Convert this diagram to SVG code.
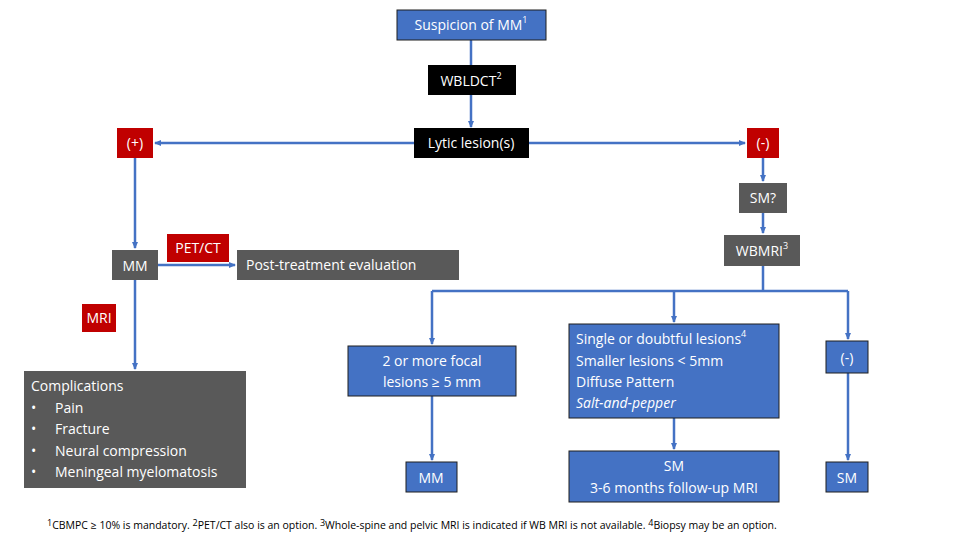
<svg xmlns="http://www.w3.org/2000/svg" width="960" height="540" viewBox="0 0 960 540">
<defs>
<marker id="a" markerWidth="8" markerHeight="8" refX="6" refY="4" orient="auto" markerUnits="userSpaceOnUse"><path d="M0,1 L7,4 L0,7 z" fill="#4472c4"/></marker>
<style>
text{font-family:"Open Sans","Liberation Sans",sans-serif;font-size:14px;fill:#fff}
.c{text-anchor:middle}
.b{fill:#4472c4;stroke:#1f1f1f;stroke-width:1}
.k{fill:#000}
.g{fill:#595959}
.r{fill:#c00000}
.l{stroke:#4472c4;stroke-width:2.5;fill:none}
.s{font-size:9px}
</style>
</defs>
<rect width="960" height="540" fill="#fff"/>
<g id="connectors">
<path class="l" d="M471 40V85" marker-end="url(#a)"/>
<path class="l" d="M471 95V127" marker-end="url(#a)"/>
<path class="l" d="M414 143H155" marker-end="url(#a)"/>
<path class="l" d="M529 143H745" marker-end="url(#a)"/>
<path class="l" d="M763 158V181" marker-end="url(#a)"/>
<path class="l" d="M763 213V233" marker-end="url(#a)"/>
<path class="l" d="M135 158V248" marker-end="url(#a)"/>
<path class="l" d="M158 265H235" marker-end="url(#a)"/>
<path class="l" d="M135 280V369" marker-end="url(#a)"/>
<path class="l" d="M763 266V291M432 291H848M432 291V344" marker-end="url(#a)"/>
<path class="l" d="M674 291V322" marker-end="url(#a)"/>
<path class="l" d="M848 291V339" marker-end="url(#a)"/>
<path class="l" d="M432 396V460" marker-end="url(#a)"/>
<path class="l" d="M674 418V449" marker-end="url(#a)"/>
<path class="l" d="M848 373V460" marker-end="url(#a)"/>
</g>
<g id="suspicion"><rect class="b" x="397" y="10" width="149" height="30"/><text x="471" y="30" class="c">Suspicion of MM<tspan class="s" dy="-7">1</tspan></text></g>
<g id="wbldct"><rect class="k" x="428" y="65" width="88" height="30"/><text x="471" y="86" class="c">WBLDCT<tspan class="s" dy="-7">2</tspan></text></g>
<g id="lytic"><rect class="k" x="414" y="128" width="115" height="30"/><text x="471" y="148" class="c">Lytic lesion(s)</text></g>
<g id="pos"><rect class="r" x="117" y="128" width="36" height="30"/><text x="135" y="148" class="c">(+)</text></g>
<g id="neg"><rect class="r" x="747" y="128" width="32" height="30"/><text x="763" y="148" class="c">(-)</text></g>
<g id="smq"><rect class="g" x="739" y="183" width="48" height="30"/><text x="763" y="203" class="c">SM?</text></g>
<g id="wbmri"><rect class="g" x="724" y="235" width="76" height="31"/><text x="762" y="256" class="c">WBMRI<tspan class="s" dy="-7">3</tspan></text></g>
<g id="mm1"><rect class="g" x="112" y="250" width="46" height="30"/><text x="135" y="271" class="c">MM</text></g>
<g id="petct"><rect class="r" x="167" y="234" width="62" height="28"/><text x="198" y="253" class="c">PET/CT</text></g>
<g id="post"><rect class="g" x="237" y="250" width="222" height="30"/><text x="246" y="270">Post-treatment evaluation</text></g>
<g id="mri"><rect class="r" x="82" y="304" width="34" height="28"/><text x="99" y="323" class="c">MRI</text></g>
<g id="complications"><rect class="g" x="24" y="371" width="222" height="117"/>
<text x="31" y="391">Complications</text>
<text x="31" y="413">•</text><text x="55" y="413">Pain</text>
<text x="31" y="434">•</text><text x="55" y="434">Fracture</text>
<text x="31" y="456">•</text><text x="55" y="456">Neural compression</text>
<text x="31" y="477">•</text><text x="55" y="477">Meningeal myelomatosis</text></g>
<g id="focal"><rect class="b" x="348" y="346" width="168" height="50"/><text x="432" y="366" class="c">2 or more focal</text><text x="432" y="387" class="c">lesions ≥ 5 mm</text></g>
<g id="single"><rect class="b" x="569" y="324" width="210" height="94"/>
<text x="576" y="344">Single or doubtful lesions<tspan class="s" dy="-7">4</tspan></text>
<text x="576" y="366">Smaller lesions &lt; 5mm</text>
<text x="576" y="387">Diffuse Pattern</text>
<text x="576" y="408" font-style="italic">Salt-and-pepper</text></g>
<g id="negb"><rect class="b" x="826" y="341" width="42" height="32"/><text x="847" y="363" class="c">(-)</text></g>
<g id="mm2"><rect class="b" x="406" y="462" width="51" height="30"/><text x="431" y="483" class="c">MM</text></g>
<g id="sm1"><rect class="b" x="569" y="451" width="210" height="51"/><text x="674" y="471" class="c">SM</text><text x="674" y="493" class="c">3-6 months follow-up MRI</text></g>
<g id="sm2"><rect class="b" x="826" y="462" width="42" height="30"/><text x="847" y="483" class="c">SM</text></g>
<text x="47" y="529" style="fill:#000;font-size:10.5px"><tspan class="s" dy="-3">1</tspan><tspan dy="3">CBMPC ≥ 10% is mandatory.  </tspan><tspan class="s" dy="-3">2</tspan><tspan dy="3">PET/CT also is an option.  </tspan><tspan class="s" dy="-3">3</tspan><tspan dy="3">Whole-spine and pelvic MRI is indicated if WB MRI is not available.  </tspan><tspan class="s" dy="-3">4</tspan><tspan dy="3">Biopsy may be an option.</tspan></text>
</svg>
